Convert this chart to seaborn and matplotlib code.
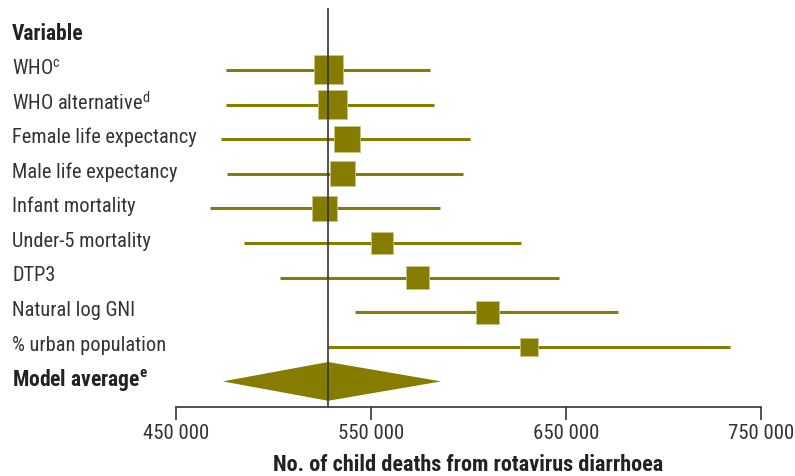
import matplotlib
matplotlib.use("Agg")
import matplotlib.pyplot as plt
import matplotlib.transforms as mtransforms
import seaborn as sns
import pandas as pd

# --------------------------------------------------------------------------------------------------------------------------------------------
# Data
variables = ["WHO$^{\\mathrm{c}}$", "WHO alternative$^{\\mathrm{d}}$", "Female life expectancy",
             "Male life expectancy", "Infant mortality", "Under-5 mortality", "DTP3",
             "Natural log GNI", "% urban population"]
estimate = [528000, 530000, 537500, 535500, 526000, 555500, 574000, 609500, 631000]
ci_low = [475500, 475500, 473000, 476000, 467500, 485000, 503500, 542000, 528000]
ci_high = [580500, 582500, 601000, 597000, 585500, 627000, 646500, 676500, 734000]
weight = [29, 29, 26, 25, 25, 22, 23, 23, 18]   # relative square size

model_avg = 528000
model_low = 474000
model_high = 586000

xticks = [450000, 550000, 650000, 750000]
xtick_labels = ["450 000", "550 000", "650 000", "750 000"]

olive = "#857c00"
dark = "#333333"

sns.set_style("white")
plt.rcParams["font.family"] = ["Roboto Condensed", "DejaVu Sans"]
plt.rcParams["mathtext.fontset"] = "custom"
plt.rcParams["mathtext.rm"] = "Roboto Condensed"
plt.rcParams["mathtext.bf"] = "Roboto Condensed:bold"

df = pd.DataFrame({"variable": variables, "estimate": estimate, "low": ci_low,
                   "high": ci_high, "weight": weight})
df["row"] = range(len(df))

fig = plt.figure(figsize=(7.95, 4.76), dpi=100)
ax = fig.add_axes([176 / 795, 1 - 407 / 476, 585 / 795, 399 / 476])

# CI lines
ax.hlines(df["row"], df["low"], df["high"], color=olive, lw=2.2, zorder=2)

# squares (side in px -> points)
sizes = {w: (w * 0.72) ** 2 for w in df["weight"].unique()}
sns.scatterplot(data=df, x="estimate", y="row", size="weight", sizes=sizes, marker="s",
                color=olive, edgecolor="#c9c48a", linewidth=0.6, legend=False, ax=ax, zorder=3)

# model average diamond
avg_row = len(df)
ax.fill([model_low, model_avg, model_high, model_avg],
        [avg_row, avg_row - 0.56, avg_row, avg_row + 0.56], color=olive, lw=0, zorder=3)

ax.axvline(model_avg, color=dark, lw=1.2, zorder=4)

ax.set_xlim(450000, 750000)
ax.set_ylim((407 - 70) / 34.6, (8 - 70) / 34.6)
ax.set_xticks(xticks)
ax.set_xticklabels(xtick_labels, fontsize=15, color=dark)
ax.set_yticks([])
ax.set_xlabel("No. of child deaths from rotavirus diarrhoea", fontsize=16,
              fontweight="bold", color="#222222", labelpad=8)
ax.set_ylabel("")
for s in ["top", "right", "left"]:
    ax.spines[s].set_visible(False)
ax.spines["bottom"].set_color(dark)
ax.spines["bottom"].set_linewidth(1.2)
ax.tick_params(axis="x", bottom=True, direction="out", length=9, width=1.2, color=dark, pad=3)

# row labels on the left
trans = mtransforms.blended_transform_factory(fig.transFigure, ax.transData)
ax.text(12 / 795, -1.05, "Variable", transform=trans, fontsize=15.5, fontweight="bold",
        color="#222222", va="center", ha="left", clip_on=False)
for r, lab in zip(df["row"], df["variable"]):
    ax.text(12 / 795, r - 0.05, lab, transform=trans, fontsize=14.7, color="#333333",
            va="center", ha="left", clip_on=False)
ax.text(12 / 795, avg_row - 0.05, "Model average$^{\\mathbf{e}}$", transform=trans, fontsize=15.5,
        fontweight="bold", color="#222222", va="center", ha="left", clip_on=False)

fig.savefig("out.png", dpi=100)
